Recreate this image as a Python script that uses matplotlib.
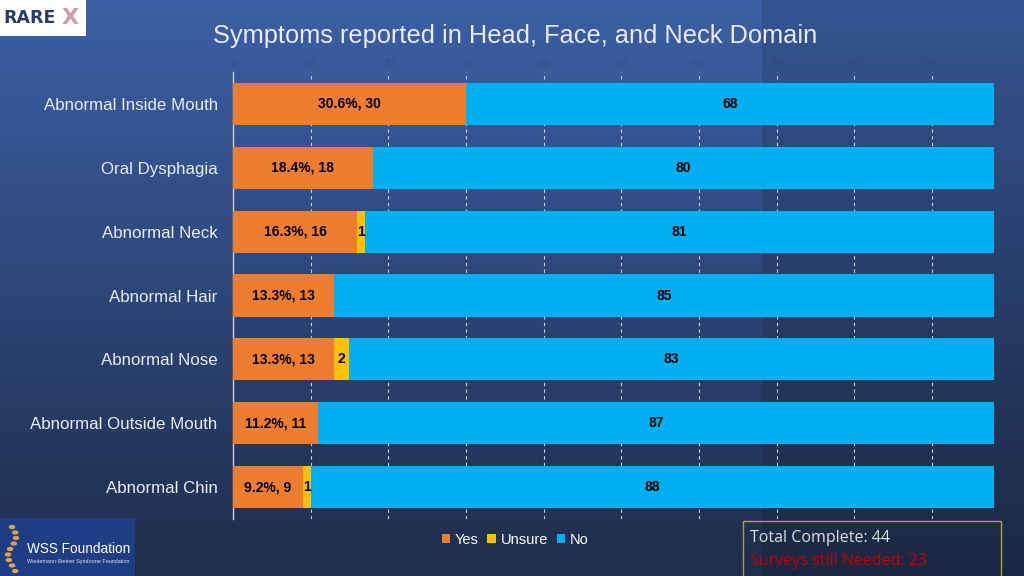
import numpy as np
import matplotlib.pyplot as plt
from matplotlib.patches import Rectangle

# data
categories = ["Abnormal Inside Mouth", "Oral Dysphagia", "Abnormal Neck", "Abnormal Hair",
              "Abnormal Nose", "Abnormal Outside Mouth", "Abnormal Chin"]
yes = [30, 18, 16, 13, 13, 11, 9]
unsure = [0, 0, 1, 0, 2, 0, 1]
no = [68, 80, 81, 85, 83, 87, 88]
yes_pct = [30.6, 18.4, 16.3, 13.3, 13.3, 11.2, 9.2]
x_ticks = [0, 10, 20, 30, 40, 50, 60, 70, 80, 90]

c_yes, c_unsure, c_no = "#ED7D31", "#FFC000", "#00B0F0"

fig = plt.figure(figsize=(10.24, 5.76), dpi=100)

# background gradient
bg = fig.add_axes([0, 0, 1, 1], zorder=-10)
h, w = 576, 1024
t = np.linspace(0, 1, h)[:, None]
top = np.array([60, 96, 166]) / 255
bot = np.array([30, 45, 75]) / 255
img = (1 - t[..., None]) * top + t[..., None] * bot
img = np.repeat(img, w, axis=1)
img[:, 762:, :] *= 0.88
bg.imshow(img, aspect="auto", extent=[0, 1, 0, 1], origin="upper")
bg.set_xlim(0, 1)
bg.set_ylim(0, 1)
bg.axis("off")

ax = fig.add_axes([233 / 1024, 1 - 519 / 576, (994 - 233) / 1024, (519 - 72) / 576])
ax.set_facecolor("none")
y = np.arange(len(categories))
left_unsure = np.array(yes)
left_no = left_unsure + np.array(unsure)
ax.barh(y, yes, height=0.66, color=c_yes, label="Yes", zorder=3)
ax.barh(y, unsure, left=left_unsure, height=0.66, color=c_unsure, label="Unsure", zorder=3)
ax.barh(y, no, left=left_no, height=0.66, color=c_no, label="No", zorder=3)

lab = dict(ha="center", va="center", fontsize=10, fontweight="bold", color="black",
           family="Liberation Sans", zorder=4)
for i in range(len(categories)):
    ax.text(yes[i] / 2, i, f"{yes_pct[i]}%, {yes[i]}", **lab)
    if unsure[i]:
        ax.text(left_unsure[i] + unsure[i] / 2, i, str(unsure[i]), **lab)
    ax.text(left_no[i] + no[i] / 2, i, str(no[i]), **lab)

ax.set_xlim(0, 98)
ax.set_ylim(len(categories) - 0.5, -0.5)
ax.set_yticks(y)
ax.set_yticklabels(categories, fontsize=12.2, color="#e8ecf4", family="Liberation Sans")
ax.tick_params(axis="y", length=0, pad=11)
ax.xaxis.tick_top()
ax.set_xticks(x_ticks)
ax.set_xticklabels([str(v) for v in x_ticks], fontsize=7, color="#2a4478", alpha=0.5)
ax.tick_params(axis="x", length=0, pad=2)
ax.grid(axis="x", color="#c8d0e0", linestyle=(0, (3, 3)), linewidth=0.8, zorder=1)
for s in ["top", "right", "bottom"]:
    ax.spines[s].set_visible(False)
ax.spines["left"].set_color("#c8d0e0")
ax.spines["left"].set_linewidth(1)

leg = fig.legend(loc="center", bbox_to_anchor=(515 / 1024, 1 - 540 / 576), ncol=3, frameon=False,
                 handlelength=0.6, handleheight=0.6, handletextpad=0.3,
                 columnspacing=0.6, prop={"family": "Liberation Sans", "size": 10.5})
for txt in leg.get_texts():
    txt.set_color("white")

fig.text(515 / 1024, 1 - 36 / 576, "Symptoms reported in Head, Face, and Neck Domain",
         ha="center", va="center", fontsize=18.3, color="#e8ecf5", family="Liberation Sans")

# RAREX logo
fig.add_artist(Rectangle((0, 1 - 36 / 576), 86 / 1024, 36 / 576, transform=fig.transFigure,
                         facecolor="white", edgecolor="none"))
fig.text(3 / 1024, 1 - 18 / 576, "RARE", ha="left", va="center", fontsize=12.5,
         fontweight="bold", color="#2c3c66", family="DejaVu Sans")
fig.text(62 / 1024, 1 - 18 / 576, "X", ha="left", va="center", fontsize=16,
         fontweight="bold", color="#c9a0a8", family="DejaVu Sans")

# WSS Foundation logo
fig.add_artist(Rectangle((0, 0), 135 / 1024, 58 / 576, transform=fig.transFigure,
                         facecolor="#1f3d85", edgecolor="none"))
for k in range(9):
    yy = 1 - (527 + k * 5.5) / 576
    fig.add_artist(plt.Circle((12 / 1024 + 0.004 * np.sin(k * 0.9), yy), 0.0025,
                              transform=fig.transFigure, color="#e0a050"))
fig.text(27 / 1024, 1 - 549 / 576, "WSS Foundation", ha="left", va="center", fontsize=9.8,
         color="white", family="Liberation Sans")
fig.text(27 / 1024, 1 - 562 / 576, "Wiedemann-Steiner Syndrome Foundation", ha="left", va="center",
         fontsize=3.9, color="#dfe5f0", family="Liberation Sans")

# summary box
fig.add_artist(Rectangle((743 / 1024, -0.01), (1001 - 743) / 1024, 55 / 576 + 0.01,
                         transform=fig.transFigure, facecolor="none", edgecolor="#b39a45", linewidth=1))
fig.text(750 / 1024, 1 - 538 / 576, "Total Complete: 44", ha="left", va="center",
         fontsize=11.5, color="#e0e0e0", family="Open Sans")
fig.text(750 / 1024, 1 - 561 / 576, "Surveys still Needed: 23", ha="left", va="center",
         fontsize=11.5, color="#c00000", family="Open Sans")

fig.savefig("out.png", dpi=100)
